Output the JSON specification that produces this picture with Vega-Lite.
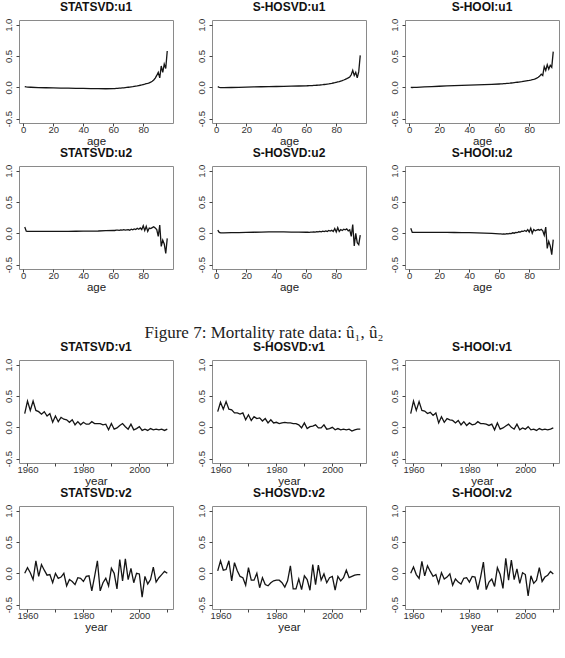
{
  "$schema": "https://vega.github.io/schema/vega-lite/v6.json",
  "background": "white",
  "padding": {"left": 2, "top": 0, "right": 0, "bottom": 0},
  "autosize": {"type": "pad"},
  "bounds": "flush",
  "columns": 3,
  "spacing": {"row": 43, "column": 39},
  "align": {"row": "each", "column": "all"},
  "config": {
    "font": "Liberation Sans",
    "view": {"stroke": "#8a8a8a", "strokeWidth": 1},
    "title": {"font": "Liberation Sans", "fontSize": 12, "fontWeight": "bold", "color": "#111", "offset": 4},
    "axis": {
      "grid": false, "domain": false,
      "tickColor": "#444", "tickSize": 3,
      "labelFont": "Liberation Sans", "labelFontSize": 9.5, "labelColor": "#333",
      "titleFont": "Liberation Sans", "titleFontSize": 11.5, "titleFontWeight": "normal", "titleColor": "#222"
    },
    "axisY": {"labelAngle": 270, "labelAlign": "center", "labelBaseline": "bottom", "labelPadding": 3},
    "axisX": {"labelPadding": -2, "titlePadding": 1.5},
    "line": {"color": "#151515", "strokeWidth": 1.3}
  },
  "concat": [
    {"title": "STATSVD:u1", "width": 154, "height": 103, "data": {"name": "statsvd_u1"}, "mark": "line",
     "encoding": {
       "x": {"field": "age", "type": "quantitative", "scale": {"domain": [-2.84, 99.84], "nice": false, "zero": false}, "axis": {"values": [0, 20, 40, 60, 80], "title": "age"}},
       "y": {"field": "u", "type": "quantitative", "scale": {"domain": [-0.57, 1.075], "nice": false, "zero": false}, "axis": {"values": [-0.5, 0, 0.5, 1], "labelExpr": "replace(format(datum.value, '.1f'), '−', '-')", "title": null}}}},
    {"title": "S-HOSVD:u1", "width": 154, "height": 103, "data": {"name": "shosvd_u1"}, "mark": "line",
     "encoding": {
       "x": {"field": "age", "type": "quantitative", "scale": {"domain": [-2.84, 99.84], "nice": false, "zero": false}, "axis": {"values": [0, 20, 40, 60, 80], "title": "age"}},
       "y": {"field": "u", "type": "quantitative", "scale": {"domain": [-0.57, 1.075], "nice": false, "zero": false}, "axis": {"values": [-0.5, 0, 0.5, 1], "labelExpr": "replace(format(datum.value, '.1f'), '−', '-')", "title": null}}}},
    {"title": "S-HOOI:u1", "width": 154, "height": 103, "data": {"name": "shooi_u1"}, "mark": "line",
     "encoding": {
       "x": {"field": "age", "type": "quantitative", "scale": {"domain": [-2.84, 99.84], "nice": false, "zero": false}, "axis": {"values": [0, 20, 40, 60, 80], "title": "age"}},
       "y": {"field": "u", "type": "quantitative", "scale": {"domain": [-0.57, 1.075], "nice": false, "zero": false}, "axis": {"values": [-0.5, 0, 0.5, 1], "labelExpr": "replace(format(datum.value, '.1f'), '−', '-')", "title": null}}}},
    {"title": "STATSVD:u2", "width": 154, "height": 103, "data": {"name": "statsvd_u2"}, "mark": "line",
     "encoding": {
       "x": {"field": "age", "type": "quantitative", "scale": {"domain": [-2.84, 99.84], "nice": false, "zero": false}, "axis": {"values": [0, 20, 40, 60, 80], "title": "age"}},
       "y": {"field": "u", "type": "quantitative", "scale": {"domain": [-0.57, 1.075], "nice": false, "zero": false}, "axis": {"values": [-0.5, 0, 0.5, 1], "labelExpr": "replace(format(datum.value, '.1f'), '−', '-')", "title": null}}}},
    {"title": "S-HOSVD:u2", "width": 154, "height": 103, "data": {"name": "shosvd_u2"}, "mark": "line",
     "encoding": {
       "x": {"field": "age", "type": "quantitative", "scale": {"domain": [-2.84, 99.84], "nice": false, "zero": false}, "axis": {"values": [0, 20, 40, 60, 80], "title": "age"}},
       "y": {"field": "u", "type": "quantitative", "scale": {"domain": [-0.57, 1.075], "nice": false, "zero": false}, "axis": {"values": [-0.5, 0, 0.5, 1], "labelExpr": "replace(format(datum.value, '.1f'), '−', '-')", "title": null}}}},
    {"title": "S-HOOI:u2", "width": 154, "height": 103, "data": {"name": "shooi_u2"}, "mark": "line",
     "encoding": {
       "x": {"field": "age", "type": "quantitative", "scale": {"domain": [-2.84, 99.84], "nice": false, "zero": false}, "axis": {"values": [0, 20, 40, 60, 80], "title": "age"}},
       "y": {"field": "u", "type": "quantitative", "scale": {"domain": [-0.57, 1.075], "nice": false, "zero": false}, "axis": {"values": [-0.5, 0, 0.5, 1], "labelExpr": "replace(format(datum.value, '.1f'), '−', '-')", "title": null}}}},
    {"width": 154, "height": 5, "view": {"stroke": null}, "data": {"values": []}, "mark": "text", "encoding": {}},
    {"width": 154, "height": 5, "view": {"stroke": null},
     "data": {"values": [{"caption": "Figure 7: Mortality rate data: û₁, û₂"}]},
     "mark": {"type": "text", "font": "Liberation Serif", "fontSize": 17, "color": "#222", "baseline": "alphabetic", "dx": -25, "dy": 23},
     "encoding": {"text": {"field": "caption"}}},
    {"width": 154, "height": 5, "view": {"stroke": null}, "data": {"values": []}, "mark": "text", "encoding": {}},
    {"title": "STATSVD:v1", "width": 154, "height": 103, "data": {"name": "statsvd_v1"}, "mark": "line",
     "encoding": {
       "x": {"field": "year", "type": "quantitative", "scale": {"domain": [1956.96, 2012.04], "nice": false, "zero": false}, "axis": {"values": [1960, 1970, 1980, 1990, 2000, 2010], "format": "d", "labelExpr": "datum.value % 20 === 0 ? datum.label : ''", "title": "year"}},
       "y": {"field": "v", "type": "quantitative", "scale": {"domain": [-0.57, 1.075], "nice": false, "zero": false}, "axis": {"values": [-0.5, 0, 0.5, 1], "labelExpr": "replace(format(datum.value, '.1f'), '−', '-')", "title": null}}}},
    {"title": "S-HOSVD:v1", "width": 154, "height": 103, "data": {"name": "shosvd_v1"}, "mark": "line",
     "encoding": {
       "x": {"field": "year", "type": "quantitative", "scale": {"domain": [1956.96, 2012.04], "nice": false, "zero": false}, "axis": {"values": [1960, 1970, 1980, 1990, 2000, 2010], "format": "d", "labelExpr": "datum.value % 20 === 0 ? datum.label : ''", "title": "year"}},
       "y": {"field": "v", "type": "quantitative", "scale": {"domain": [-0.57, 1.075], "nice": false, "zero": false}, "axis": {"values": [-0.5, 0, 0.5, 1], "labelExpr": "replace(format(datum.value, '.1f'), '−', '-')", "title": null}}}},
    {"title": "S-HOOI:v1", "width": 154, "height": 103, "data": {"name": "shooi_v1"}, "mark": "line",
     "encoding": {
       "x": {"field": "year", "type": "quantitative", "scale": {"domain": [1956.96, 2012.04], "nice": false, "zero": false}, "axis": {"values": [1960, 1970, 1980, 1990, 2000, 2010], "format": "d", "labelExpr": "datum.value % 20 === 0 ? datum.label : ''", "title": "year"}},
       "y": {"field": "v", "type": "quantitative", "scale": {"domain": [-0.57, 1.075], "nice": false, "zero": false}, "axis": {"values": [-0.5, 0, 0.5, 1], "labelExpr": "replace(format(datum.value, '.1f'), '−', '-')", "title": null}}}},
    {"title": "STATSVD:v2", "width": 154, "height": 103, "data": {"name": "statsvd_v2"}, "mark": "line",
     "encoding": {
       "x": {"field": "year", "type": "quantitative", "scale": {"domain": [1956.96, 2012.04], "nice": false, "zero": false}, "axis": {"values": [1960, 1970, 1980, 1990, 2000, 2010], "format": "d", "labelExpr": "datum.value % 20 === 0 ? datum.label : ''", "title": "year"}},
       "y": {"field": "v", "type": "quantitative", "scale": {"domain": [-0.57, 1.075], "nice": false, "zero": false}, "axis": {"values": [-0.5, 0, 0.5, 1], "labelExpr": "replace(format(datum.value, '.1f'), '−', '-')", "title": null}}}},
    {"title": "S-HOSVD:v2", "width": 154, "height": 103, "data": {"name": "shosvd_v2"}, "mark": "line",
     "encoding": {
       "x": {"field": "year", "type": "quantitative", "scale": {"domain": [1956.96, 2012.04], "nice": false, "zero": false}, "axis": {"values": [1960, 1970, 1980, 1990, 2000, 2010], "format": "d", "labelExpr": "datum.value % 20 === 0 ? datum.label : ''", "title": "year"}},
       "y": {"field": "v", "type": "quantitative", "scale": {"domain": [-0.57, 1.075], "nice": false, "zero": false}, "axis": {"values": [-0.5, 0, 0.5, 1], "labelExpr": "replace(format(datum.value, '.1f'), '−', '-')", "title": null}}}},
    {"title": "S-HOOI:v2", "width": 154, "height": 103, "data": {"name": "shooi_v2"}, "mark": "line",
     "encoding": {
       "x": {"field": "year", "type": "quantitative", "scale": {"domain": [1956.96, 2012.04], "nice": false, "zero": false}, "axis": {"values": [1960, 1970, 1980, 1990, 2000, 2010], "format": "d", "labelExpr": "datum.value % 20 === 0 ? datum.label : ''", "title": "year"}},
       "y": {"field": "v", "type": "quantitative", "scale": {"domain": [-0.57, 1.075], "nice": false, "zero": false}, "axis": {"values": [-0.5, 0, 0.5, 1], "labelExpr": "replace(format(datum.value, '.1f'), '−', '-')", "title": null}}}}
  ],
  "datasets": {
    "statsvd_u1": [
      {"age": 1, "u": 0.010}, {"age": 2, "u": 0.006}, {"age": 3, "u": 0.004}, {"age": 5, "u": 0.001}, {"age": 10, "u": -0.004},
      {"age": 15, "u": -0.007}, {"age": 20, "u": -0.010}, {"age": 25, "u": -0.012}, {"age": 30, "u": -0.014}, {"age": 35, "u": -0.016},
      {"age": 40, "u": -0.018}, {"age": 45, "u": -0.020}, {"age": 50, "u": -0.022}, {"age": 55, "u": -0.023}, {"age": 60, "u": -0.021},
      {"age": 61, "u": -0.020}, {"age": 62, "u": -0.018}, {"age": 63, "u": -0.016}, {"age": 64, "u": -0.014}, {"age": 65, "u": -0.012},
      {"age": 66, "u": -0.010}, {"age": 67, "u": -0.008}, {"age": 68, "u": -0.005}, {"age": 69, "u": -0.002}, {"age": 70, "u": 0.001},
      {"age": 71, "u": 0.004}, {"age": 72, "u": 0.008}, {"age": 73, "u": 0.011}, {"age": 74, "u": 0.015}, {"age": 75, "u": 0.019},
      {"age": 76, "u": 0.023}, {"age": 77, "u": 0.028}, {"age": 78, "u": 0.033}, {"age": 79, "u": 0.038}, {"age": 80, "u": 0.044},
      {"age": 81, "u": 0.050}, {"age": 82, "u": 0.057}, {"age": 83, "u": 0.063}, {"age": 84, "u": 0.072}, {"age": 85, "u": 0.082},
      {"age": 86, "u": 0.098}, {"age": 87, "u": 0.118}, {"age": 88, "u": 0.148}, {"age": 89, "u": 0.190}, {"age": 90, "u": 0.240},
      {"age": 91, "u": 0.150}, {"age": 92, "u": 0.340}, {"age": 93, "u": 0.240}, {"age": 94, "u": 0.370}, {"age": 95, "u": 0.300},
      {"age": 96, "u": 0.580}
    ],
    "shosvd_u1": [
      {"age": 1, "u": 0.010}, {"age": 2, "u": 0.000}, {"age": 3, "u": -0.005}, {"age": 5, "u": -0.006}, {"age": 10, "u": -0.003},
      {"age": 15, "u": 0.000}, {"age": 20, "u": 0.003}, {"age": 25, "u": 0.006}, {"age": 30, "u": 0.009}, {"age": 35, "u": 0.011},
      {"age": 40, "u": 0.013}, {"age": 45, "u": 0.015}, {"age": 50, "u": 0.018}, {"age": 55, "u": 0.021}, {"age": 60, "u": 0.024},
      {"age": 61, "u": 0.025}, {"age": 62, "u": 0.026}, {"age": 63, "u": 0.027}, {"age": 64, "u": 0.028}, {"age": 65, "u": 0.030},
      {"age": 66, "u": 0.031}, {"age": 67, "u": 0.033}, {"age": 68, "u": 0.035}, {"age": 69, "u": 0.037}, {"age": 70, "u": 0.040},
      {"age": 71, "u": 0.042}, {"age": 72, "u": 0.045}, {"age": 73, "u": 0.048}, {"age": 74, "u": 0.052}, {"age": 75, "u": 0.055},
      {"age": 76, "u": 0.060}, {"age": 77, "u": 0.064}, {"age": 78, "u": 0.069}, {"age": 79, "u": 0.074}, {"age": 80, "u": 0.080},
      {"age": 81, "u": 0.086}, {"age": 82, "u": 0.092}, {"age": 83, "u": 0.100}, {"age": 84, "u": 0.108}, {"age": 85, "u": 0.117},
      {"age": 86, "u": 0.127}, {"age": 87, "u": 0.138}, {"age": 88, "u": 0.150}, {"age": 89, "u": 0.165}, {"age": 90, "u": 0.200},
      {"age": 91, "u": 0.270}, {"age": 92, "u": 0.190}, {"age": 93, "u": 0.240}, {"age": 94, "u": 0.150}, {"age": 95, "u": 0.250},
      {"age": 96, "u": 0.510}
    ],
    "shooi_u1": [
      {"age": 1, "u": 0.000}, {"age": 2, "u": -0.003}, {"age": 3, "u": -0.002}, {"age": 5, "u": 0.000}, {"age": 10, "u": 0.006},
      {"age": 15, "u": 0.012}, {"age": 20, "u": 0.017}, {"age": 25, "u": 0.022}, {"age": 30, "u": 0.027}, {"age": 35, "u": 0.032},
      {"age": 40, "u": 0.036}, {"age": 45, "u": 0.040}, {"age": 50, "u": 0.044}, {"age": 55, "u": 0.048}, {"age": 60, "u": 0.053},
      {"age": 61, "u": 0.054}, {"age": 62, "u": 0.056}, {"age": 63, "u": 0.058}, {"age": 64, "u": 0.060}, {"age": 65, "u": 0.062},
      {"age": 66, "u": 0.064}, {"age": 67, "u": 0.066}, {"age": 68, "u": 0.069}, {"age": 69, "u": 0.072}, {"age": 70, "u": 0.075},
      {"age": 71, "u": 0.078}, {"age": 72, "u": 0.081}, {"age": 73, "u": 0.084}, {"age": 74, "u": 0.087}, {"age": 75, "u": 0.090},
      {"age": 76, "u": 0.094}, {"age": 77, "u": 0.098}, {"age": 78, "u": 0.102}, {"age": 79, "u": 0.106}, {"age": 80, "u": 0.110},
      {"age": 81, "u": 0.115}, {"age": 82, "u": 0.121}, {"age": 83, "u": 0.128}, {"age": 84, "u": 0.136}, {"age": 85, "u": 0.146},
      {"age": 86, "u": 0.160}, {"age": 87, "u": 0.180}, {"age": 88, "u": 0.210}, {"age": 89, "u": 0.190}, {"age": 90, "u": 0.330},
      {"age": 91, "u": 0.270}, {"age": 92, "u": 0.360}, {"age": 93, "u": 0.290}, {"age": 94, "u": 0.350}, {"age": 95, "u": 0.320},
      {"age": 96, "u": 0.570}
    ],
    "statsvd_u2": [
      {"age": 1, "u": 0.100}, {"age": 2, "u": 0.035}, {"age": 3, "u": 0.030}, {"age": 5, "u": 0.030}, {"age": 10, "u": 0.030},
      {"age": 15, "u": 0.030}, {"age": 20, "u": 0.030}, {"age": 25, "u": 0.031}, {"age": 30, "u": 0.032}, {"age": 35, "u": 0.033},
      {"age": 40, "u": 0.034}, {"age": 45, "u": 0.035}, {"age": 50, "u": 0.037}, {"age": 55, "u": 0.042}, {"age": 60, "u": 0.048},
      {"age": 61, "u": 0.045}, {"age": 62, "u": 0.052}, {"age": 63, "u": 0.050}, {"age": 64, "u": 0.048}, {"age": 65, "u": 0.055},
      {"age": 66, "u": 0.052}, {"age": 67, "u": 0.058}, {"age": 68, "u": 0.050}, {"age": 69, "u": 0.055}, {"age": 70, "u": 0.060},
      {"age": 71, "u": 0.050}, {"age": 72, "u": 0.065}, {"age": 73, "u": 0.055}, {"age": 74, "u": 0.070}, {"age": 75, "u": 0.060},
      {"age": 76, "u": 0.080}, {"age": 77, "u": 0.065}, {"age": 78, "u": 0.085}, {"age": 79, "u": 0.060}, {"age": 80, "u": 0.120},
      {"age": 81, "u": 0.045}, {"age": 82, "u": 0.110}, {"age": 83, "u": 0.030}, {"age": 84, "u": 0.085}, {"age": 85, "u": 0.075},
      {"age": 86, "u": 0.090}, {"age": 87, "u": 0.105}, {"age": 88, "u": 0.085}, {"age": 89, "u": 0.060}, {"age": 90, "u": -0.050},
      {"age": 91, "u": 0.130}, {"age": 92, "u": -0.210}, {"age": 93, "u": -0.110}, {"age": 94, "u": -0.170}, {"age": 95, "u": -0.320},
      {"age": 96, "u": -0.080}
    ],
    "shosvd_u2": [
      {"age": 1, "u": 0.050}, {"age": 2, "u": 0.015}, {"age": 3, "u": 0.008}, {"age": 5, "u": 0.008}, {"age": 10, "u": 0.010},
      {"age": 15, "u": 0.012}, {"age": 20, "u": 0.015}, {"age": 25, "u": 0.017}, {"age": 30, "u": 0.020}, {"age": 35, "u": 0.022},
      {"age": 40, "u": 0.024}, {"age": 45, "u": 0.022}, {"age": 50, "u": 0.020}, {"age": 55, "u": 0.018}, {"age": 60, "u": 0.017},
      {"age": 61, "u": 0.018}, {"age": 62, "u": 0.016}, {"age": 63, "u": 0.020}, {"age": 64, "u": 0.018}, {"age": 65, "u": 0.022},
      {"age": 66, "u": 0.020}, {"age": 67, "u": 0.026}, {"age": 68, "u": 0.022}, {"age": 69, "u": 0.030}, {"age": 70, "u": 0.024},
      {"age": 71, "u": 0.034}, {"age": 72, "u": 0.028}, {"age": 73, "u": 0.038}, {"age": 74, "u": 0.030}, {"age": 75, "u": 0.045},
      {"age": 76, "u": 0.035}, {"age": 77, "u": 0.050}, {"age": 78, "u": 0.030}, {"age": 79, "u": 0.075}, {"age": 80, "u": 0.020},
      {"age": 81, "u": 0.090}, {"age": 82, "u": 0.030}, {"age": 83, "u": 0.060}, {"age": 84, "u": 0.045}, {"age": 85, "u": 0.065},
      {"age": 86, "u": 0.055}, {"age": 87, "u": 0.070}, {"age": 88, "u": 0.040}, {"age": 89, "u": 0.055}, {"age": 90, "u": -0.050},
      {"age": 91, "u": 0.140}, {"age": 92, "u": -0.200}, {"age": 93, "u": 0.000}, {"age": 94, "u": -0.150}, {"age": 95, "u": -0.180},
      {"age": 96, "u": -0.030}
    ],
    "shooi_u2": [
      {"age": 1, "u": 0.080}, {"age": 2, "u": 0.015}, {"age": 3, "u": 0.015}, {"age": 5, "u": 0.015}, {"age": 10, "u": 0.015},
      {"age": 15, "u": 0.015}, {"age": 20, "u": 0.015}, {"age": 25, "u": 0.014}, {"age": 30, "u": 0.013}, {"age": 35, "u": 0.012},
      {"age": 40, "u": 0.010}, {"age": 45, "u": 0.007}, {"age": 50, "u": 0.003}, {"age": 55, "u": -0.002}, {"age": 60, "u": -0.008},
      {"age": 61, "u": -0.010}, {"age": 62, "u": -0.014}, {"age": 63, "u": -0.010}, {"age": 64, "u": -0.012}, {"age": 65, "u": -0.005},
      {"age": 66, "u": -0.008}, {"age": 67, "u": 0.000}, {"age": 68, "u": -0.004}, {"age": 69, "u": 0.008}, {"age": 70, "u": 0.002},
      {"age": 71, "u": 0.015}, {"age": 72, "u": 0.010}, {"age": 73, "u": 0.025}, {"age": 74, "u": 0.020}, {"age": 75, "u": 0.035},
      {"age": 76, "u": 0.030}, {"age": 77, "u": 0.045}, {"age": 78, "u": 0.030}, {"age": 79, "u": 0.060}, {"age": 80, "u": 0.020},
      {"age": 81, "u": 0.080}, {"age": 82, "u": 0.000}, {"age": 83, "u": 0.060}, {"age": 84, "u": 0.040}, {"age": 85, "u": 0.050},
      {"age": 86, "u": 0.060}, {"age": 87, "u": 0.050}, {"age": 88, "u": 0.065}, {"age": 89, "u": 0.040}, {"age": 90, "u": -0.030},
      {"age": 91, "u": 0.100}, {"age": 92, "u": -0.240}, {"age": 93, "u": -0.130}, {"age": 94, "u": -0.200}, {"age": 95, "u": -0.340},
      {"age": 96, "u": -0.100}
    ],
    "statsvd_v1": [
      {"year": 1959, "v": 0.22}, {"year": 1960, "v": 0.42}, {"year": 1961, "v": 0.27}, {"year": 1962, "v": 0.42}, {"year": 1963, "v": 0.27},
      {"year": 1964, "v": 0.25}, {"year": 1965, "v": 0.21}, {"year": 1966, "v": 0.25}, {"year": 1967, "v": 0.18}, {"year": 1968, "v": 0.22},
      {"year": 1969, "v": 0.08}, {"year": 1970, "v": 0.18}, {"year": 1971, "v": 0.09}, {"year": 1972, "v": 0.16}, {"year": 1973, "v": 0.13},
      {"year": 1974, "v": 0.12}, {"year": 1975, "v": 0.08}, {"year": 1976, "v": 0.12}, {"year": 1977, "v": 0.04}, {"year": 1978, "v": 0.09},
      {"year": 1979, "v": 0.04}, {"year": 1980, "v": 0.08}, {"year": 1981, "v": 0.05}, {"year": 1982, "v": 0.05}, {"year": 1983, "v": 0.09},
      {"year": 1984, "v": 0.06}, {"year": 1985, "v": 0.06}, {"year": 1986, "v": 0.06}, {"year": 1987, "v": 0.04}, {"year": 1988, "v": 0.05},
      {"year": 1989, "v": -0.04}, {"year": 1990, "v": 0.06}, {"year": 1991, "v": -0.03}, {"year": 1992, "v": -0.01}, {"year": 1993, "v": 0.03},
      {"year": 1994, "v": 0.06}, {"year": 1995, "v": 0.01}, {"year": 1996, "v": -0.03}, {"year": 1997, "v": 0.05}, {"year": 1998, "v": -0.04},
      {"year": 1999, "v": -0.02}, {"year": 2000, "v": 0.01}, {"year": 2001, "v": -0.05}, {"year": 2002, "v": -0.03}, {"year": 2003, "v": -0.05},
      {"year": 2004, "v": -0.02}, {"year": 2005, "v": -0.04}, {"year": 2006, "v": -0.03}, {"year": 2007, "v": -0.04}, {"year": 2008, "v": -0.03},
      {"year": 2009, "v": -0.05}, {"year": 2010, "v": -0.03}
    ],
    "shosvd_v1": [
      {"year": 1959, "v": 0.25}, {"year": 1960, "v": 0.40}, {"year": 1961, "v": 0.29}, {"year": 1962, "v": 0.41}, {"year": 1963, "v": 0.29},
      {"year": 1964, "v": 0.28}, {"year": 1965, "v": 0.23}, {"year": 1966, "v": 0.23}, {"year": 1967, "v": 0.21}, {"year": 1968, "v": 0.23},
      {"year": 1969, "v": 0.12}, {"year": 1970, "v": 0.20}, {"year": 1971, "v": 0.11}, {"year": 1972, "v": 0.17}, {"year": 1973, "v": 0.14},
      {"year": 1974, "v": 0.15}, {"year": 1975, "v": 0.10}, {"year": 1976, "v": 0.14}, {"year": 1977, "v": 0.07}, {"year": 1978, "v": 0.12},
      {"year": 1979, "v": 0.07}, {"year": 1980, "v": 0.08}, {"year": 1981, "v": 0.06}, {"year": 1982, "v": 0.07}, {"year": 1983, "v": 0.08},
      {"year": 1984, "v": 0.07}, {"year": 1985, "v": 0.07}, {"year": 1986, "v": 0.06}, {"year": 1987, "v": 0.06}, {"year": 1988, "v": 0.04},
      {"year": 1989, "v": -0.01}, {"year": 1990, "v": 0.07}, {"year": 1991, "v": -0.02}, {"year": 1992, "v": 0.01}, {"year": 1993, "v": 0.02},
      {"year": 1994, "v": 0.04}, {"year": 1995, "v": -0.01}, {"year": 1996, "v": -0.01}, {"year": 1997, "v": 0.04}, {"year": 1998, "v": -0.03},
      {"year": 1999, "v": -0.02}, {"year": 2000, "v": 0.00}, {"year": 2001, "v": -0.04}, {"year": 2002, "v": -0.02}, {"year": 2003, "v": -0.04},
      {"year": 2004, "v": -0.03}, {"year": 2005, "v": -0.04}, {"year": 2006, "v": -0.03}, {"year": 2007, "v": -0.06}, {"year": 2008, "v": -0.04},
      {"year": 2009, "v": -0.03}, {"year": 2010, "v": -0.03}
    ],
    "shooi_v1": [
      {"year": 1959, "v": 0.22}, {"year": 1960, "v": 0.42}, {"year": 1961, "v": 0.27}, {"year": 1962, "v": 0.41}, {"year": 1963, "v": 0.27},
      {"year": 1964, "v": 0.26}, {"year": 1965, "v": 0.22}, {"year": 1966, "v": 0.24}, {"year": 1967, "v": 0.19}, {"year": 1968, "v": 0.23},
      {"year": 1969, "v": 0.07}, {"year": 1970, "v": 0.17}, {"year": 1971, "v": 0.08}, {"year": 1972, "v": 0.14}, {"year": 1973, "v": 0.12},
      {"year": 1974, "v": 0.11}, {"year": 1975, "v": 0.07}, {"year": 1976, "v": 0.11}, {"year": 1977, "v": 0.04}, {"year": 1978, "v": 0.09},
      {"year": 1979, "v": 0.03}, {"year": 1980, "v": 0.07}, {"year": 1981, "v": 0.04}, {"year": 1982, "v": 0.05}, {"year": 1983, "v": 0.09},
      {"year": 1984, "v": 0.06}, {"year": 1985, "v": 0.06}, {"year": 1986, "v": 0.05}, {"year": 1987, "v": 0.03}, {"year": 1988, "v": 0.05},
      {"year": 1989, "v": -0.04}, {"year": 1990, "v": 0.07}, {"year": 1991, "v": -0.03}, {"year": 1992, "v": -0.01}, {"year": 1993, "v": 0.02},
      {"year": 1994, "v": 0.05}, {"year": 1995, "v": 0.00}, {"year": 1996, "v": -0.03}, {"year": 1997, "v": 0.05}, {"year": 1998, "v": -0.04},
      {"year": 1999, "v": -0.01}, {"year": 2000, "v": -0.03}, {"year": 2001, "v": 0.01}, {"year": 2002, "v": -0.04}, {"year": 2003, "v": -0.03},
      {"year": 2004, "v": -0.05}, {"year": 2005, "v": -0.02}, {"year": 2006, "v": -0.04}, {"year": 2007, "v": -0.03}, {"year": 2008, "v": -0.04},
      {"year": 2009, "v": -0.03}, {"year": 2010, "v": -0.01}
    ],
    "statsvd_v2": [
      {"year": 1959, "v": 0.00}, {"year": 1960, "v": 0.09}, {"year": 1961, "v": 0.01}, {"year": 1962, "v": -0.10}, {"year": 1963, "v": 0.20},
      {"year": 1964, "v": -0.05}, {"year": 1965, "v": 0.14}, {"year": 1966, "v": 0.05}, {"year": 1967, "v": -0.03}, {"year": 1968, "v": -0.02},
      {"year": 1969, "v": -0.15}, {"year": 1970, "v": 0.00}, {"year": 1971, "v": -0.08}, {"year": 1972, "v": -0.06}, {"year": 1973, "v": 0.00},
      {"year": 1974, "v": -0.20}, {"year": 1975, "v": -0.10}, {"year": 1976, "v": -0.13}, {"year": 1977, "v": -0.18}, {"year": 1978, "v": -0.07},
      {"year": 1979, "v": -0.08}, {"year": 1980, "v": -0.13}, {"year": 1981, "v": -0.05}, {"year": 1982, "v": -0.04}, {"year": 1983, "v": -0.28},
      {"year": 1984, "v": -0.05}, {"year": 1985, "v": 0.20}, {"year": 1986, "v": -0.28}, {"year": 1987, "v": -0.15}, {"year": 1988, "v": -0.08},
      {"year": 1989, "v": -0.20}, {"year": 1990, "v": 0.08}, {"year": 1991, "v": 0.00}, {"year": 1992, "v": -0.25}, {"year": 1993, "v": 0.22},
      {"year": 1994, "v": -0.12}, {"year": 1995, "v": 0.23}, {"year": 1996, "v": -0.10}, {"year": 1997, "v": 0.08}, {"year": 1998, "v": -0.15},
      {"year": 1999, "v": 0.00}, {"year": 2000, "v": -0.01}, {"year": 2001, "v": -0.38}, {"year": 2002, "v": -0.05}, {"year": 2003, "v": -0.17},
      {"year": 2004, "v": -0.10}, {"year": 2005, "v": 0.10}, {"year": 2006, "v": -0.14}, {"year": 2007, "v": -0.07}, {"year": 2008, "v": -0.02},
      {"year": 2009, "v": 0.03}, {"year": 2010, "v": 0.00}
    ],
    "shosvd_v2": [
      {"year": 1959, "v": 0.04}, {"year": 1960, "v": 0.20}, {"year": 1961, "v": 0.05}, {"year": 1962, "v": 0.06}, {"year": 1963, "v": 0.20},
      {"year": 1964, "v": -0.12}, {"year": 1965, "v": 0.17}, {"year": 1966, "v": 0.04}, {"year": 1967, "v": -0.05}, {"year": 1968, "v": -0.07},
      {"year": 1969, "v": -0.19}, {"year": 1970, "v": 0.09}, {"year": 1971, "v": -0.11}, {"year": 1972, "v": -0.11}, {"year": 1973, "v": 0.00},
      {"year": 1974, "v": -0.23}, {"year": 1975, "v": -0.07}, {"year": 1976, "v": -0.18}, {"year": 1977, "v": -0.20}, {"year": 1978, "v": -0.15},
      {"year": 1979, "v": -0.12}, {"year": 1980, "v": -0.11}, {"year": 1981, "v": -0.11}, {"year": 1982, "v": -0.15}, {"year": 1983, "v": -0.22},
      {"year": 1984, "v": -0.12}, {"year": 1985, "v": 0.12}, {"year": 1986, "v": -0.25}, {"year": 1987, "v": -0.25}, {"year": 1988, "v": -0.09},
      {"year": 1989, "v": -0.26}, {"year": 1990, "v": -0.04}, {"year": 1991, "v": -0.10}, {"year": 1992, "v": -0.27}, {"year": 1993, "v": 0.14},
      {"year": 1994, "v": -0.18}, {"year": 1995, "v": 0.13}, {"year": 1996, "v": -0.11}, {"year": 1997, "v": -0.01}, {"year": 1998, "v": -0.15},
      {"year": 1999, "v": -0.07}, {"year": 2000, "v": -0.05}, {"year": 2001, "v": -0.27}, {"year": 2002, "v": -0.05}, {"year": 2003, "v": -0.12},
      {"year": 2004, "v": -0.07}, {"year": 2005, "v": 0.05}, {"year": 2006, "v": -0.07}, {"year": 2007, "v": -0.05}, {"year": 2008, "v": -0.03},
      {"year": 2009, "v": -0.02}, {"year": 2010, "v": -0.02}
    ],
    "shooi_v2": [
      {"year": 1959, "v": 0.00}, {"year": 1960, "v": 0.10}, {"year": 1961, "v": -0.02}, {"year": 1962, "v": -0.08}, {"year": 1963, "v": 0.19},
      {"year": 1964, "v": -0.04}, {"year": 1965, "v": 0.12}, {"year": 1966, "v": 0.03}, {"year": 1967, "v": -0.05}, {"year": 1968, "v": -0.02},
      {"year": 1969, "v": -0.16}, {"year": 1970, "v": 0.01}, {"year": 1971, "v": -0.09}, {"year": 1972, "v": -0.06}, {"year": 1973, "v": -0.01},
      {"year": 1974, "v": -0.19}, {"year": 1975, "v": -0.09}, {"year": 1976, "v": -0.14}, {"year": 1977, "v": -0.17}, {"year": 1978, "v": -0.08},
      {"year": 1979, "v": -0.07}, {"year": 1980, "v": -0.14}, {"year": 1981, "v": -0.05}, {"year": 1982, "v": -0.06}, {"year": 1983, "v": -0.26},
      {"year": 1984, "v": -0.06}, {"year": 1985, "v": 0.18}, {"year": 1986, "v": -0.26}, {"year": 1987, "v": -0.14}, {"year": 1988, "v": -0.09},
      {"year": 1989, "v": -0.21}, {"year": 1990, "v": 0.09}, {"year": 1991, "v": -0.02}, {"year": 1992, "v": -0.24}, {"year": 1993, "v": 0.24},
      {"year": 1994, "v": -0.11}, {"year": 1995, "v": 0.21}, {"year": 1996, "v": -0.10}, {"year": 1997, "v": 0.07}, {"year": 1998, "v": -0.16},
      {"year": 1999, "v": 0.01}, {"year": 2000, "v": -0.02}, {"year": 2001, "v": -0.36}, {"year": 2002, "v": -0.04}, {"year": 2003, "v": -0.16},
      {"year": 2004, "v": -0.11}, {"year": 2005, "v": 0.09}, {"year": 2006, "v": -0.13}, {"year": 2007, "v": -0.06}, {"year": 2008, "v": -0.03},
      {"year": 2009, "v": 0.03}, {"year": 2010, "v": -0.01}
    ]
  }
}
